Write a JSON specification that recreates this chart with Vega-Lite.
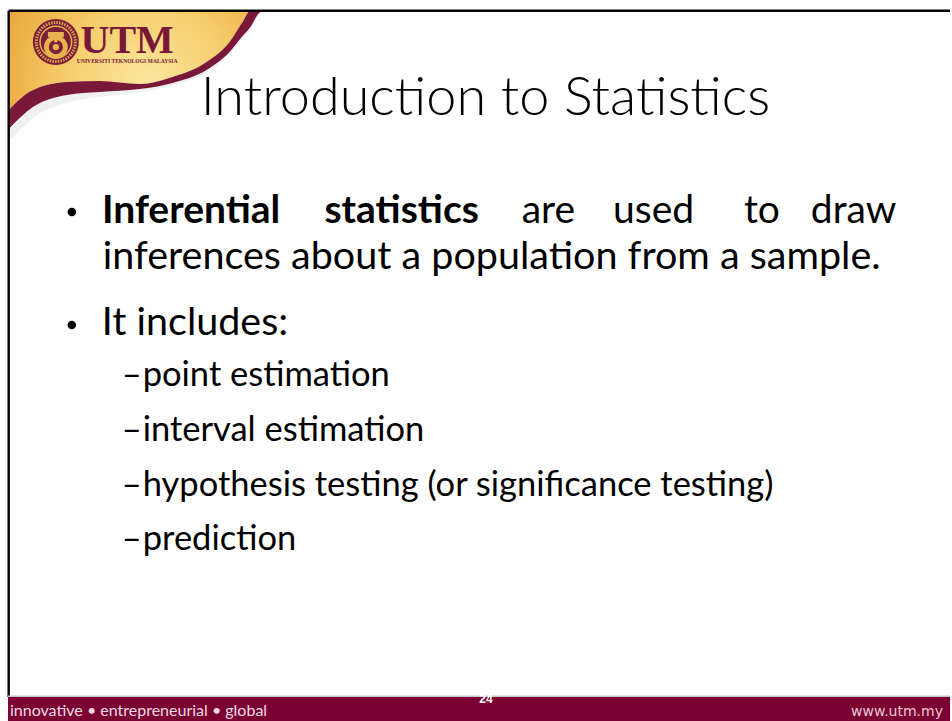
{
  "$schema": "https://vega.github.io/schema/vega-lite/v6.json",
  "autosize": {"type": "fit", "contains": "padding"},
  "width": 952,
  "height": 721,
  "padding": 0,
  "background": "#ffffff",
  "config": {"view": {"stroke": null}},
  "datasets": {
    "swoosh": [
      {"x": 0.0914, "ceil": 0.112, "top": 1.144, "bottom": 1.342, "shade": 1.48},
      {"x": 0.347, "ceil": 0.112, "top": 0.936, "bottom": 1.113, "shade": 1.228},
      {"x": 0.704, "ceil": 0.112, "top": 0.853, "bottom": 0.988, "shade": 1.07},
      {"x": 1.050, "ceil": 0.112, "top": 0.843, "bottom": 0.957, "shade": 1.01},
      {"x": 1.471, "ceil": 0.112, "top": 0.874, "bottom": 0.926, "shade": 0.96},
      {"x": 1.817, "ceil": 0.112, "top": 0.801, "bottom": 0.863, "shade": 0.89},
      {"x": 2.174, "ceil": 0.112, "top": 0.645, "bottom": 0.728, "shade": 0.755},
      {"x": 2.416, "ceil": 0.112, "top": 0.437, "bottom": 0.541, "shade": 0.568},
      {"x": 2.553, "ceil": 0.112, "top": 0.229, "bottom": 0.374, "shade": 0.400},
      {"x": 2.637, "ceil": 0.112, "top": 0.112, "bottom": 0.281, "shade": 0.305},
      {"x": 2.710, "ceil": 0.112, "top": 0.112, "bottom": 0.156, "shade": 0.180},
      {"x": 2.752, "ceil": 0.112, "top": 0.112, "bottom": 0.112, "shade": 0.122}
    ],
    "emblem": [{"x": 0.588, "y": 0.437}],
    "emblemInner": [{"x": 0.588, "y": 0.49}],
    "emblemBar": [
      {"x": 0.504, "x2": 0.672, "y": 0.333, "y2": 0.385},
      {"x": 0.572, "x2": 0.604, "y": 0.385, "y2": 0.44}
    ],
    "brand": [{"x": 1.339, "y": 0.551, "text": "UTM"}],
    "brandSub": [{"x": 1.339, "y": 0.655, "text": "UNIVERSITI TEKNOLOGI MALAYSIA"}],
    "vline": [{"x": 0.0914, "y": 0.112, "y2": 7.25}],
    "hline": [{"x": 0.0914, "x2": 10, "y": 0.112}],
    "title": [{"x": 5.110, "y": 1.196, "text": "Introduction to Statistics"}],
    "bullets": [{"x": 0.756, "y": 2.205}, {"x": 0.756, "y": 3.381}],
    "wordsBold": [
      {"x": 2.012, "y": 2.320, "text": "Inferential"},
      {"x": 4.228, "y": 2.320, "text": "statistics"}
    ],
    "words": [
      {"x": 5.772, "y": 2.320, "text": "are"},
      {"x": 6.880, "y": 2.320, "text": "used"},
      {"x": 8.020, "y": 2.320, "text": "to"},
      {"x": 8.986, "y": 2.320, "text": "draw"}
    ],
    "lines": [
      {"x": 1.082, "y": 2.798, "text": "inferences about a population from a sample."},
      {"x": 1.071, "y": 3.485, "text": "It includes:"}
    ],
    "sub": [
      {"x": 1.282, "y": 4.015, "text": "–"},
      {"x": 1.502, "y": 4.015, "text": "point estimation"},
      {"x": 1.282, "y": 4.587, "text": "–"},
      {"x": 1.502, "y": 4.587, "text": "interval estimation"},
      {"x": 1.282, "y": 5.160, "text": "–"},
      {"x": 1.502, "y": 5.160, "text": "hypothesis testing (or significance testing)"},
      {"x": 1.282, "y": 5.721, "text": "–"},
      {"x": 1.502, "y": 5.721, "text": "prediction"}
    ],
    "bar": [{"x": 0.084, "x2": 10, "y": 7.25, "y2": 7.5}],
    "barline": [{"x": 0.084, "x2": 10, "y": 7.243}],
    "footLeft": [{"x": 0.105, "y": 7.448, "text": "innovative • entrepreneurial • global"}],
    "footRight": [{"x": 9.926, "y": 7.448, "text": "www.utm.my"}],
    "pageNo": [{"x": 5.115, "y": 7.313, "text": "24"}]
  },
  "encoding": {
    "x": {"field": "x", "type": "quantitative", "axis": null, "scale": {"domain": [0, 10], "nice": false, "zero": false}},
    "y": {"field": "y", "type": "quantitative", "axis": null, "scale": {"domain": [0, 7.5], "nice": false, "zero": false, "reverse": true}}
  },
  "layer": [
    {
      "data": {"name": "swoosh"},
      "mark": {"type": "area", "interpolate": "monotone", "fill": "#d9d9d9", "opacity": 0.4},
      "encoding": {"y": {"field": "bottom", "type": "quantitative"}, "y2": {"field": "shade"}}
    },
    {
      "data": {"name": "swoosh"},
      "mark": {
        "type": "area", "interpolate": "monotone",
        "fill": {"gradient": "radial", "x1": 0.55, "y1": 0.6, "x2": 0.55, "y2": 0.6, "r1": 0, "r2": 0.72,
          "stops": [{"offset": 0, "color": "#fce7a0"}, {"offset": 0.45, "color": "#f6cd6c"}, {"offset": 1, "color": "#e69a2a"}]}
      },
      "encoding": {"y": {"field": "top", "type": "quantitative"}, "y2": {"field": "ceil"}}
    },
    {
      "data": {"name": "swoosh"},
      "mark": {"type": "area", "interpolate": "monotone", "fill": "#7a1838"},
      "encoding": {"y": {"field": "top", "type": "quantitative"}, "y2": {"field": "bottom"}}
    },
    {
      "data": {"name": "emblem"},
      "mark": {"type": "point", "shape": "circle", "filled": true, "size": 2116, "color": "#7a1e3a", "opacity": 1}
    },
    {
      "data": {"name": "emblem"},
      "mark": {"type": "point", "shape": "circle", "filled": false, "size": 1520, "stroke": "#e6b04c", "strokeWidth": 3, "strokeDash": [1.5, 1.2], "opacity": 0.9}
    },
    {
      "data": {"name": "emblem"},
      "mark": {"type": "point", "shape": "circle", "filled": false, "size": 1000, "stroke": "#e6b04c", "strokeWidth": 1.5, "opacity": 1}
    },
    {
      "data": {"name": "emblemInner"},
      "mark": {"type": "point", "shape": "circle", "filled": true, "size": 560, "color": "#e8b24e", "opacity": 1}
    },
    {
      "data": {"name": "emblemInner"},
      "mark": {"type": "point", "shape": "circle", "filled": true, "size": 200, "color": "#7a1e3a", "opacity": 1}
    },
    {
      "data": {"name": "emblemInner"},
      "mark": {"type": "point", "shape": "circle", "filled": true, "size": 40, "color": "#e8b24e", "opacity": 1}
    },
    {
      "data": {"name": "emblemBar"},
      "mark": {"type": "rect", "color": "#e8b24e"},
      "encoding": {"x2": {"field": "x2"}, "y2": {"field": "y2"}}
    },
    {
      "data": {"name": "brand"},
      "mark": {"type": "text", "align": "center", "baseline": "alphabetic", "font": "Liberation Serif", "fontWeight": "bold", "fontSize": 40, "color": "#7a1838"},
      "encoding": {"text": {"field": "text"}}
    },
    {
      "data": {"name": "brandSub"},
      "mark": {"type": "text", "align": "center", "baseline": "alphabetic", "font": "Liberation Sans Narrow", "fontWeight": "bold", "fontSize": 5.6, "color": "#7a1838"},
      "encoding": {"text": {"field": "text"}}
    },
    {
      "data": {"name": "hline"},
      "mark": {"type": "rule", "color": "#000000", "strokeWidth": 2.6},
      "encoding": {"x2": {"field": "x2"}}
    },
    {
      "data": {"name": "vline"},
      "mark": {"type": "rule", "color": "#000000", "strokeWidth": 2.4},
      "encoding": {"y2": {"field": "y2"}}
    },
    {
      "data": {"name": "title"},
      "mark": {"type": "text", "align": "center", "baseline": "alphabetic", "font": "Lato", "fontWeight": 300, "fontSize": 54, "color": "#000000"},
      "encoding": {"text": {"field": "text"}}
    },
    {
      "data": {"name": "bullets"},
      "mark": {"type": "point", "shape": "circle", "filled": true, "size": 72, "color": "#000000", "opacity": 1}
    },
    {
      "data": {"name": "wordsBold"},
      "mark": {"type": "text", "align": "center", "baseline": "alphabetic", "font": "Lato", "fontWeight": "bold", "fontSize": 39, "color": "#000000"},
      "encoding": {"text": {"field": "text"}}
    },
    {
      "data": {"name": "words"},
      "mark": {"type": "text", "align": "center", "baseline": "alphabetic", "font": "Lato", "fontSize": 39, "color": "#000000"},
      "encoding": {"text": {"field": "text"}}
    },
    {
      "data": {"name": "lines"},
      "mark": {"type": "text", "align": "left", "baseline": "alphabetic", "font": "Lato", "fontSize": 39.5, "color": "#000000"},
      "encoding": {"text": {"field": "text"}}
    },
    {
      "data": {"name": "sub"},
      "mark": {"type": "text", "align": "left", "baseline": "alphabetic", "font": "Lato", "fontSize": 34.5, "color": "#000000"},
      "encoding": {"text": {"field": "text"}}
    },
    {
      "data": {"name": "bar"},
      "mark": {"type": "rect", "color": "#7a0132"},
      "encoding": {"x2": {"field": "x2"}, "y2": {"field": "y2"}}
    },
    {
      "data": {"name": "barline"},
      "mark": {"type": "rule", "color": "#c9c9c9", "strokeWidth": 1.5},
      "encoding": {"x2": {"field": "x2"}}
    },
    {
      "data": {"name": "footLeft"},
      "mark": {"type": "text", "align": "left", "baseline": "alphabetic", "font": "Lato", "fontSize": 16, "color": "#f2dbe3"},
      "encoding": {"text": {"field": "text"}}
    },
    {
      "data": {"name": "footRight"},
      "mark": {"type": "text", "align": "right", "baseline": "alphabetic", "font": "DejaVu Sans", "fontSize": 14, "color": "#ecc9d5"},
      "encoding": {"text": {"field": "text"}}
    },
    {
      "data": {"name": "pageNo"},
      "mark": {"type": "text", "align": "center", "baseline": "alphabetic", "font": "Liberation Sans", "fontWeight": "bold", "fontSize": 12, "color": "#ffffff"},
      "encoding": {"text": {"field": "text"}}
    }
  ]
}
